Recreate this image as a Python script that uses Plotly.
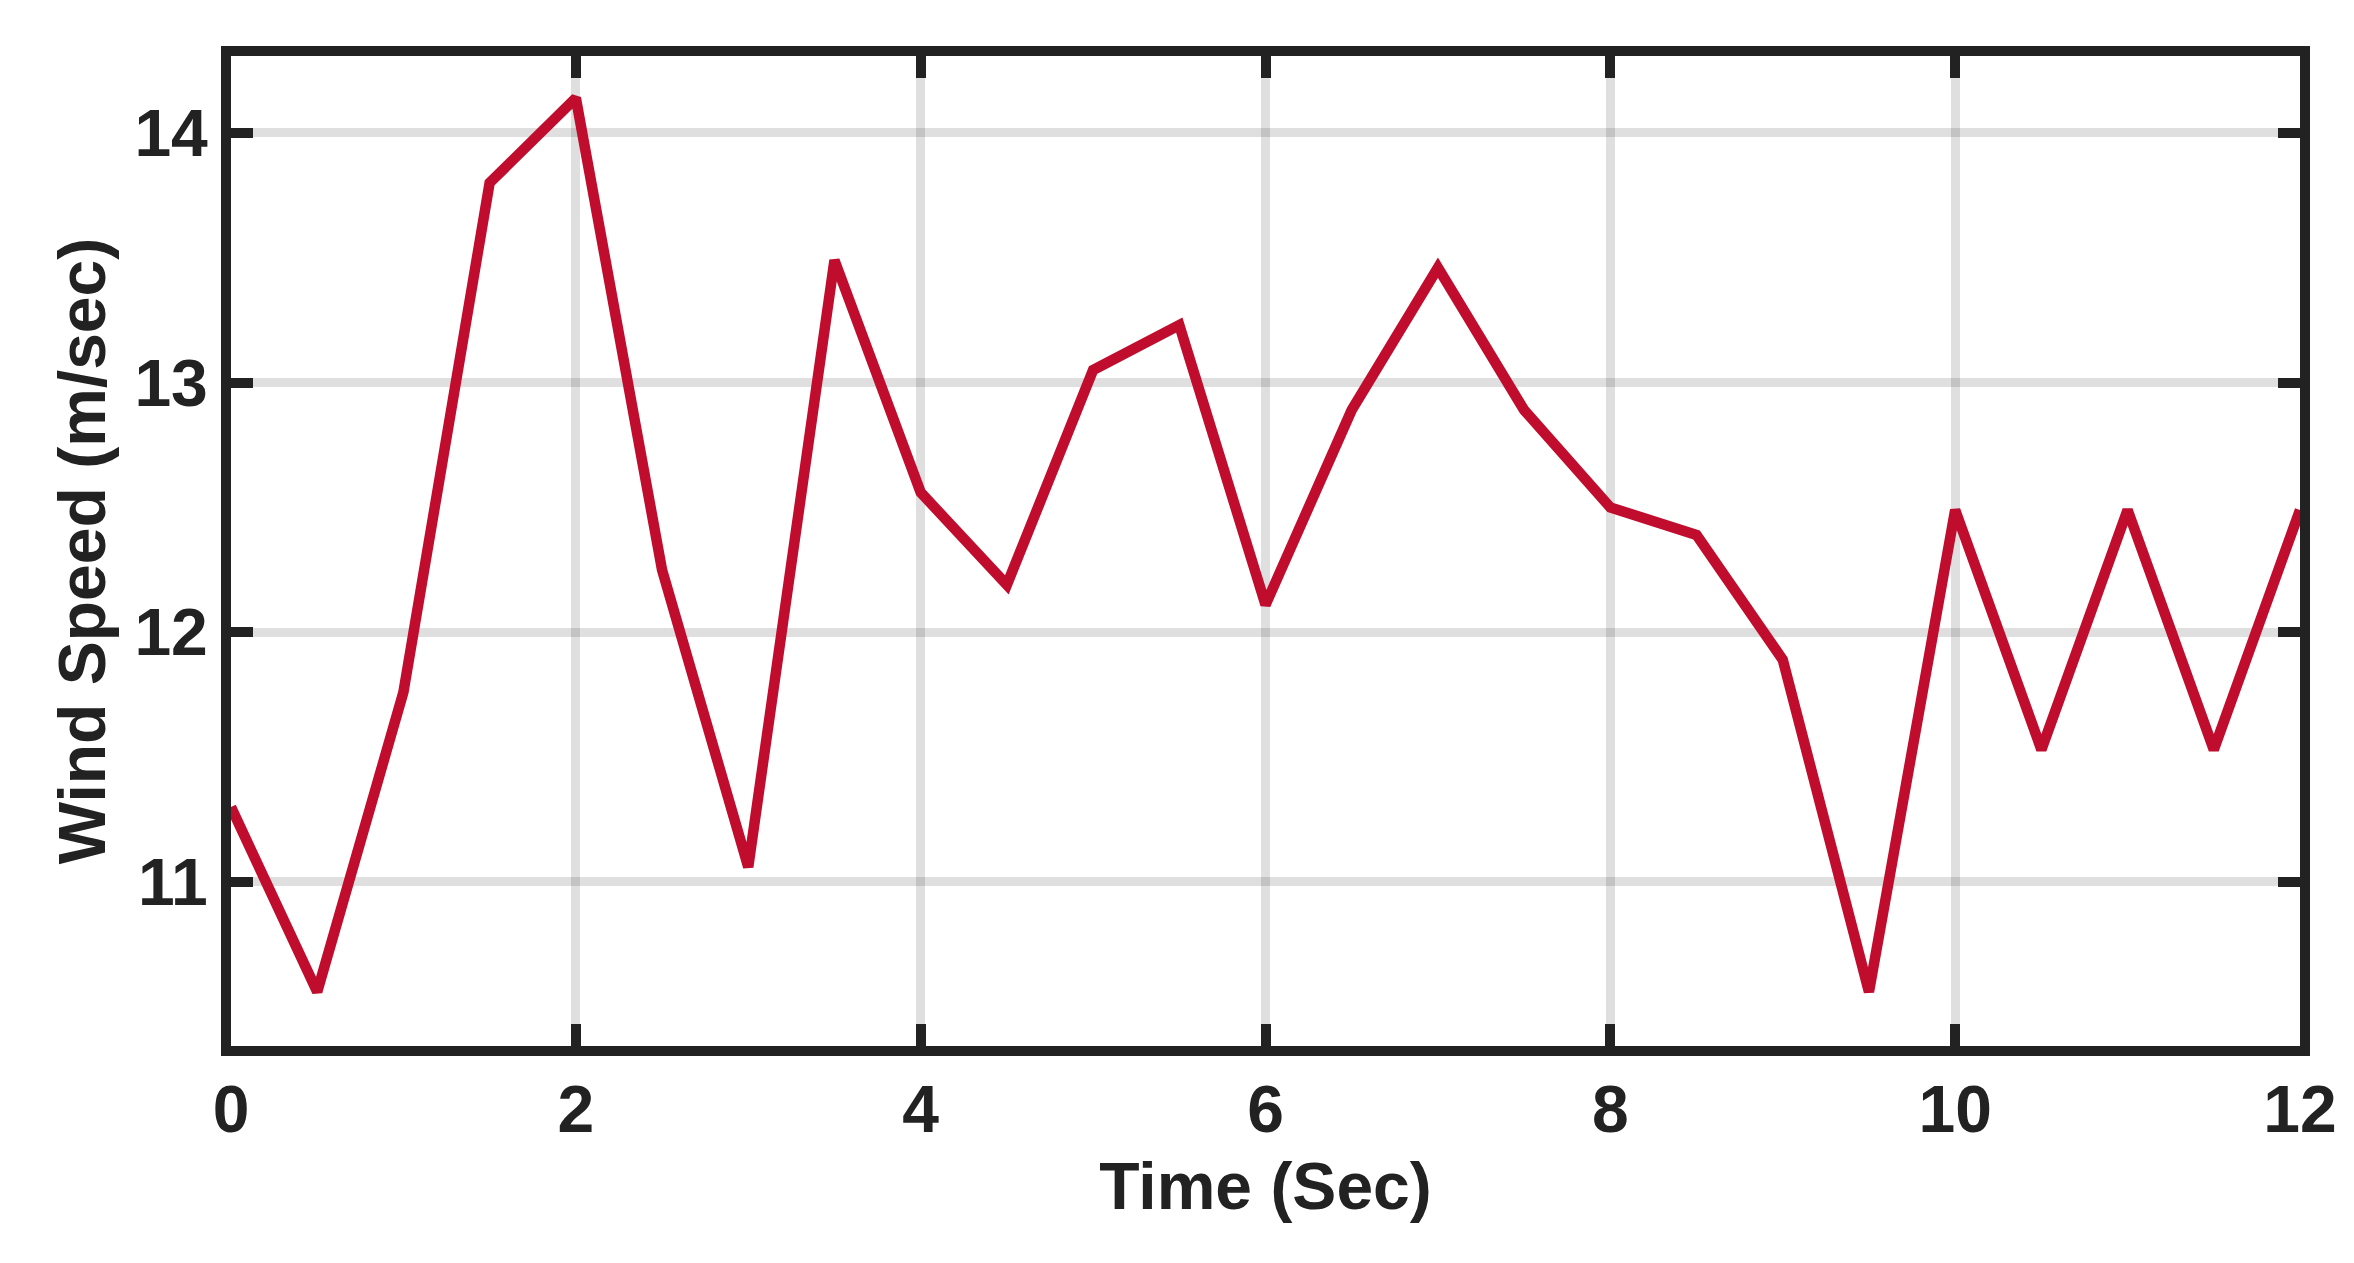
import plotly.graph_objects as go

# wind speed samples every 0.5 s
time_s = [0, 0.5, 1, 1.5, 2, 2.5, 3, 3.5, 4, 4.5, 5, 5.5, 6,
          6.5, 7, 7.5, 8, 8.5, 9, 9.5, 10, 10.5, 11, 11.5, 12]
wind_speed = [11.30, 10.56, 11.76, 13.80, 14.14, 12.25, 11.06, 13.49, 12.56, 12.19, 13.05, 13.23, 12.11,
              12.89, 13.46, 12.89, 12.50, 12.39, 11.89, 10.56, 12.49, 11.53, 12.49, 11.53, 12.49]

x_ticks = [0, 2, 4, 6, 8, 10, 12]
y_ticks = [11, 12, 13, 14]

FRAME = "#222222"
font_main = dict(family="Liberation Sans, Arial, sans-serif", size=66, color=FRAME, weight="bold")

fig = go.Figure()
fig.add_trace(go.Scatter(x=time_s, y=wind_speed, mode='lines',
                         line=dict(color='#C00D2E', width=10.5), showlegend=False))

axis_style = dict(
    showline=True, linecolor=FRAME, linewidth=10, mirror='ticks',
    ticks='inside', ticklen=22, tickwidth=10, tickcolor=FRAME,
    showgrid=True, gridcolor='rgba(0,0,0,0.125)', gridwidth=9,
    zeroline=False, tickfont=font_main,
)

fig.update_xaxes(range=[0, 12], tickvals=x_ticks, **axis_style, ticklabelstandoff=-3,
                 title=dict(text="Time (Sec)", font=font_main, standoff=22))
fig.update_yaxes(range=[10.343, 14.308], tickvals=y_ticks, **axis_style,
                 title=dict(text="Wind Speed (m/sec)", font=font_main, standoff=11))

fig.update_layout(
    width=2354, height=1263,
    margin=dict(l=223, r=62, t=48, b=225, autoexpand=False),
    plot_bgcolor='white', paper_bgcolor='white',
)

fig.write_html("out.html")
